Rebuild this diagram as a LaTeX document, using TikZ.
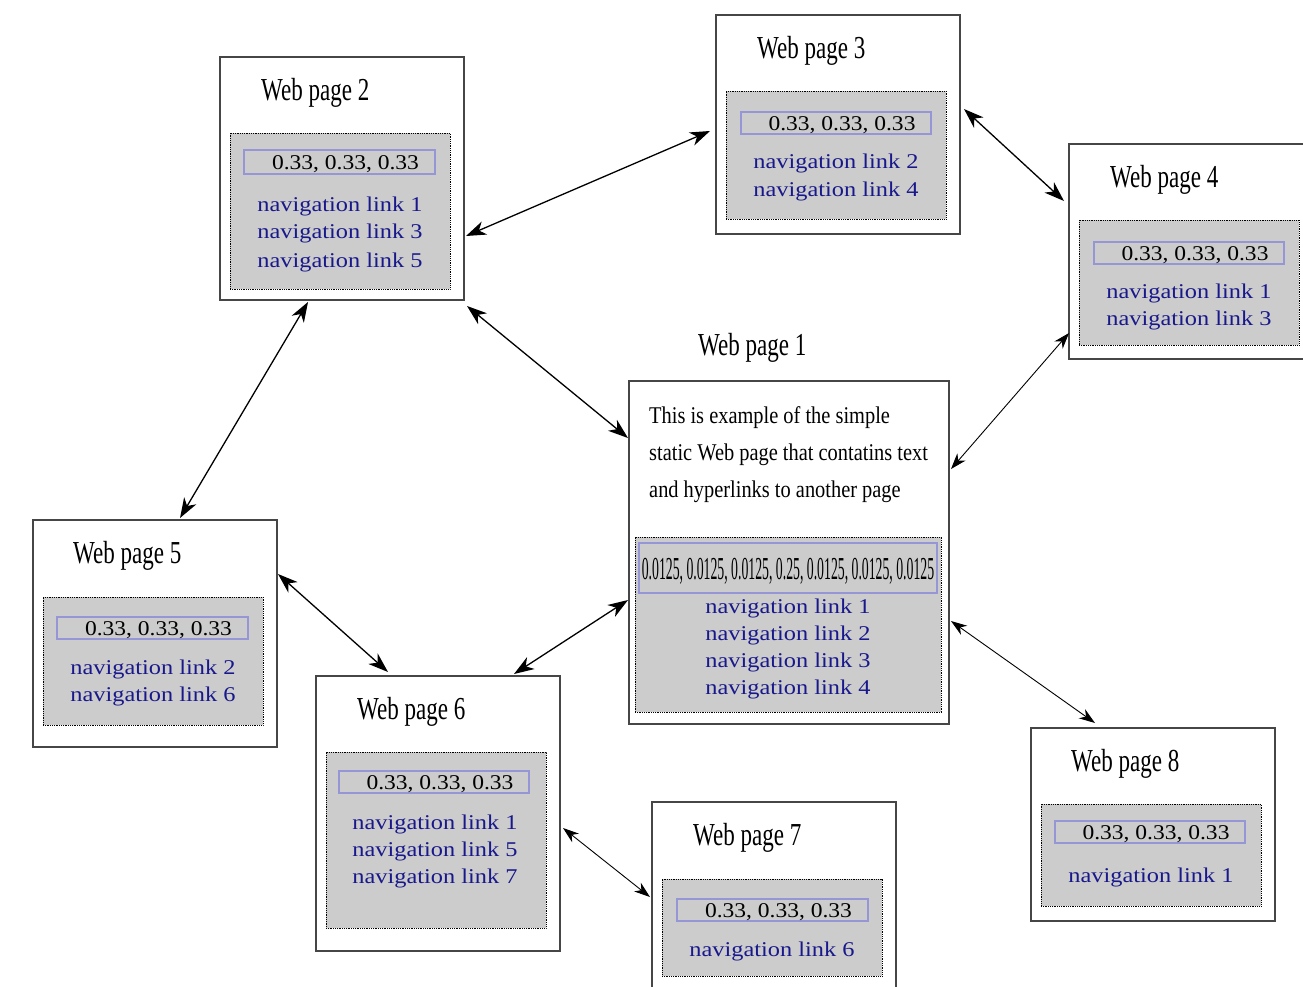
\documentclass[tikz,border=0pt]{standalone}
\usepackage{fontspec}
\setmainfont{Liberation Serif}
\newfontfamily\titlefont[FakeStretch=0.72]{Liberation Serif}
\newfontfamily\descfont[FakeStretch=0.85]{Liberation Serif}
\newfontfamily\numfont[FakeStretch=0.43]{Liberation Serif}
\newfontfamily\linkfont[FakeStretch=1.16]{Liberation Serif}
\newfontfamily\valfont[FakeStretch=1.12]{Liberation Serif}
\usetikzlibrary{arrows.meta}
\definecolor{boxline}{RGB}{70,70,70}
\definecolor{panel}{RGB}{204,204,204}
\definecolor{navblue}{RGB}{24,24,140}
\definecolor{valline}{RGB}{150,150,215}
\tikzset{
  page/.style={draw=boxline,line width=1.1pt,fill=white,inner sep=0pt,outer sep=0pt,minimum width=244pt},
  panelbox/.style={draw=black,densely dotted,line width=0.8pt,fill=panel,inner sep=0pt,outer sep=0pt,minimum width=220pt},
  valbox/.style={draw=valline,line width=1.1pt,inner sep=0pt,outer sep=0pt,minimum width=190pt,minimum height=22pt,
                 font=\fontsize{21}{24}\valfont,text height=14pt,text depth=0pt},
  pagetitle/.style={anchor=base west,inner sep=0pt,font=\fontsize{32}{36}\titlefont},
  desc/.style={anchor=base west,inner sep=0pt,font=\fontsize{24}{30}\descfont},
  navlink/.style={anchor=base,inner sep=0pt,text=navblue,font=\fontsize{21}{24}\linkfont},
  bigarr/.style={arrows={Stealth[length=20pt,width=14pt,inset=6pt]-Stealth[length=20pt,width=14pt,inset=6pt]},line width=1.3pt},
  thinarr/.style={arrows={Stealth[length=16pt,width=11pt,inset=5pt]-Stealth[length=16pt,width=11pt,inset=5pt]},line width=0.9pt}
}
\begin{document}
\begin{tikzpicture}[x=1pt,y=-1pt]
\clip (0,0) rectangle (1303,986);
\fill[white] (0,0) rectangle (1303,986);

% ---------- Web page 1 ----------
\node[pagetitle] (t1) at (698,355) {Web page 1};
\node[page,minimum width=320pt,minimum height=343pt] (wp1) at (789,552.5) {};
\node[desc] (d1a) at (649,423) {This is example of the simple};
\node[desc] (d1b) at (649,460) {static Web page that contatins text};
\node[desc] (d1c) at (649,497) {and hyperlinks to another page};
\node[panelbox,minimum width=306pt,minimum height=175pt] (g1) at (788,624.5) {};
\node[draw=valline,line width=1.1pt,inner sep=0pt,minimum width=298pt,minimum height=50pt,
      font=\fontsize{32}{36}\numfont,text height=22pt,text depth=0pt] (v1) at (788,568)
      {0.0125, 0.0125, 0.0125, 0.25, 0.0125, 0.0125, 0.0125};
\node[navlink] (l1a) at (788,613) {navigation link 1};
\node[navlink] (l1b) at (788,640) {navigation link 2};
\node[navlink] (l1c) at (788,667) {navigation link 3};
\node[navlink] (l1d) at (788,694) {navigation link 4};

% ---------- Web page 2 ----------
\node[page,minimum height=243pt] (wp2) at (342,178.5) {};
\node[pagetitle] (t2) at (261,100) {Web page 2};
\node[panelbox,minimum height=156pt] (g2) at (340,211) {};
\node[valbox,minimum width=191pt,minimum height=24pt] (v2) at (339.5,162) {\hspace*{12pt}0.33, 0.33, 0.33};
\node[navlink] (l2a) at (340,211) {navigation link 1};
\node[navlink] (l2b) at (340,238) {navigation link 3};
\node[navlink] (l2c) at (340,267) {navigation link 5};

% ---------- Web page 3 ----------
\node[page,minimum height=219pt] (wp3) at (838,124.5) {};
\node[pagetitle] (t3) at (757,58) {Web page 3};
\node[panelbox,minimum height=128pt] (g3) at (836,155) {};
\node[valbox] (v3) at (836,123) {\hspace*{12pt}0.33, 0.33, 0.33};
\node[navlink] (l3a) at (836,168) {navigation link 2};
\node[navlink] (l3b) at (836,196) {navigation link 4};

% ---------- Web page 4 ----------
\node[page,minimum height=215pt] (wp4) at (1191,251.5) {};
\node[pagetitle] (t4) at (1110,187) {Web page 4};
\node[panelbox,minimum height=125pt] (g4) at (1189,282.5) {};
\node[valbox] (v4) at (1189,253) {\hspace*{12pt}0.33, 0.33, 0.33};
\node[navlink] (l4a) at (1189,298) {navigation link 1};
\node[navlink] (l4b) at (1189,325) {navigation link 3};

% ---------- Web page 5 ----------
\node[page,minimum height=227pt] (wp5) at (155,633.5) {};
\node[pagetitle] (t5) at (73,563) {Web page 5};
\node[panelbox,minimum height=128pt] (g5) at (153,661) {};
\node[valbox,minimum width=191pt] (v5) at (152.5,628) {\hspace*{12pt}0.33, 0.33, 0.33};
\node[navlink] (l5a) at (153,674) {navigation link 2};
\node[navlink] (l5b) at (153,701) {navigation link 6};

% ---------- Web page 6 ----------
\node[page,minimum height=275pt] (wp6) at (438,813.5) {};
\node[pagetitle] (t6) at (357,719) {Web page 6};
\node[panelbox,minimum height=176pt] (g6) at (436,840) {};
\node[valbox] (v6) at (434,782) {\hspace*{12pt}0.33, 0.33, 0.33};
\node[navlink] (l6a) at (435,829) {navigation link 1};
\node[navlink] (l6b) at (435,856) {navigation link 5};
\node[navlink] (l6c) at (435,883) {navigation link 7};

% ---------- Web page 7 ----------
\node[page,minimum height=200pt] (wp7) at (774,902) {};
\node[pagetitle] (t7) at (693,845) {Web page 7};
\node[panelbox,minimum height=97pt] (g7) at (772,927.5) {};
\node[valbox,minimum width=191pt] (v7) at (772.5,910) {\hspace*{12pt}0.33, 0.33, 0.33};
\node[navlink] (l7a) at (772,956) {navigation link 6};

% ---------- Web page 8 ----------
\node[page,minimum height=193pt] (wp8) at (1153,824.5) {};
\node[pagetitle] (t8) at (1071,771) {Web page 8};
\node[panelbox,minimum height=102pt] (g8) at (1151,855) {};
\node[valbox] (v8) at (1150,832) {\hspace*{12pt}0.33, 0.33, 0.33};
\node[navlink] (l8a) at (1151,882) {navigation link 1};

% ---------- connectors ----------
\draw[bigarr] ([shift={(2,57.5)}]wp2.east) -- ([shift={(-6,6.5)}]wp3.west);
\draw[bigarr] ([shift={(4,-15.5)}]wp3.east) -- ([shift={(-5,-50.5)}]wp4.west);
\draw[bigarr] ([shift={(3,6)}]wp2.south east) -- ([shift={(-1,-114.5)}]wp1.west);
\draw[thinarr] ([shift={(0,81.5)}]wp4.west) -- ([shift={(2,-83.5)}]wp1.east);
\draw[bigarr] ([shift={(-34,2)}]wp2.south) -- ([shift={(25,-2)}]wp5.north);
\draw[bigarr] ([shift={(1,-59.5)}]wp5.east) -- ([shift={(-50,-4)}]wp6.north);
\draw[bigarr] ([shift={(76,-2)}]wp6.north) -- ([shift={(-1,47.5)}]wp1.west);
\draw[thinarr] ([shift={(2,68.5)}]wp1.east) -- ([shift={(-58,-5)}]wp8.north);
\draw[thinarr] ([shift={(3,14.5)}]wp6.east) -- ([shift={(-2,-5)}]wp7.west);
\end{tikzpicture}
\end{document}
